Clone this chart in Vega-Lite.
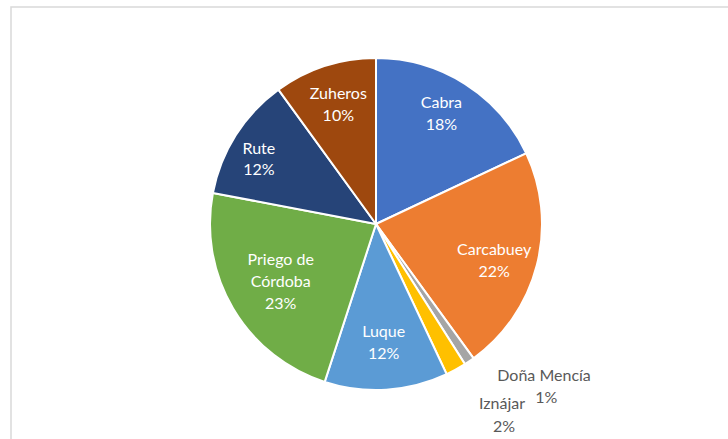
{
  "$schema": "https://vega.github.io/schema/vega-lite/v6.json",
  "width": 730,
  "height": 434,
  "padding": {"left": 11, "top": 7, "right": 0, "bottom": 0},
  "autosize": {"type": "none"},
  "background": "white",
  "config": {"view": {"stroke": null}, "font": "Lato"},
  "data": {
    "values": [
      {"city": "Cabra", "pct": 18, "ord": 1, "label": "Cabra\n18%", "pctText": "18%"},
      {"city": "Carcabuey", "pct": 22, "ord": 2, "label": "Carcabuey\n22%", "pctText": "22%"},
      {"city": "Doña Mencía", "pct": 1, "ord": 3, "label": "Doña Mencía", "pctText": "1%"},
      {"city": "Iznájar", "pct": 2, "ord": 4, "label": "Iznájar", "pctText": "2%"},
      {"city": "Luque", "pct": 12, "ord": 5, "label": "Luque\n12%", "pctText": "12%"},
      {"city": "Priego de Córdoba", "pct": 23, "ord": 6, "label": "Priego de\nCórdoba\n23%", "pctText": "23%"},
      {"city": "Rute", "pct": 12, "ord": 7, "label": "Rute\n12%", "pctText": "12%"},
      {"city": "Zuheros", "pct": 10, "ord": 8, "label": "Zuheros\n10%", "pctText": "10%"}
    ]
  },
  "layer": [
    {
      "transform": [{"filter": "datum.ord == 1"}],
      "mark": {"type": "rect", "fill": null, "stroke": "#d9d9d9", "strokeWidth": 1.5},
      "encoding": {}
    },
    {
      "mark": {"type": "arc", "outerRadius": 166, "stroke": "white", "strokeWidth": 2},
      "encoding": {
        "theta": {"field": "pct", "type": "quantitative", "stack": true},
        "order": {"field": "ord", "type": "quantitative"},
        "color": {
          "field": "city",
          "type": "nominal",
          "legend": null,
          "scale": {
            "domain": ["Cabra", "Carcabuey", "Doña Mencía", "Iznájar", "Luque", "Priego de Córdoba", "Rute", "Zuheros"],
            "range": ["#4472C4", "#ED7D31", "#A5A5A5", "#FFC000", "#5B9BD5", "#70AD47", "#264478", "#9E480E"]
          }
        }
      }
    },
    {
      "mark": {"type": "text", "radius": 122, "fontSize": 16, "lineBreak": "\n", "lineHeight": 22, "baseline": "middle", "align": "center", "fill": "white", "dy": -18},
      "encoding": {
        "theta": {"field": "pct", "type": "quantitative", "stack": true},
        "order": {"field": "ord", "type": "quantitative"},
        "text": {"condition": {"test": "datum.city == 'Cabra'", "field": "label"}, "value": ""}
      }
    },
    {
      "mark": {"type": "text", "radius": 122, "fontSize": 16, "lineBreak": "\n", "lineHeight": 22, "baseline": "middle", "align": "center", "fill": "white", "dy": -4},
      "encoding": {
        "theta": {"field": "pct", "type": "quantitative", "stack": true},
        "order": {"field": "ord", "type": "quantitative"},
        "text": {"condition": {"test": "datum.city == 'Carcabuey'", "field": "label"}, "value": ""}
      }
    },
    {
      "mark": {"type": "text", "radius": 122, "fontSize": 16, "lineBreak": "\n", "lineHeight": 22, "baseline": "middle", "align": "center", "fill": "white", "dy": -14},
      "encoding": {
        "theta": {"field": "pct", "type": "quantitative", "stack": true},
        "order": {"field": "ord", "type": "quantitative"},
        "text": {"condition": {"test": "datum.city == 'Luque' || datum.city == 'Zuheros'", "field": "label"}, "value": ""}
      }
    },
    {
      "mark": {"type": "text", "radius": 134, "fontSize": 16, "lineBreak": "\n", "lineHeight": 21, "baseline": "middle", "align": "center", "fill": "white", "dx": -4, "dy": -3},
      "encoding": {
        "theta": {"field": "pct", "type": "quantitative", "stack": true},
        "order": {"field": "ord", "type": "quantitative"},
        "text": {"condition": {"test": "datum.city == 'Rute'", "field": "label"}, "value": ""}
      }
    },
    {
      "mark": {"type": "text", "radius": 113, "fontSize": 16, "lineBreak": "\n", "lineHeight": 22, "baseline": "middle", "align": "center", "fill": "white", "dx": 2, "dy": -22},
      "encoding": {
        "theta": {"field": "pct", "type": "quantitative", "stack": true},
        "order": {"field": "ord", "type": "quantitative"},
        "text": {"condition": {"test": "datum.city == 'Priego de Córdoba'", "field": "label"}, "value": ""}
      }
    },
    {
      "mark": {"type": "text", "radius": 166, "fontSize": 16, "align": "left", "baseline": "middle", "dx": 28, "dy": 15, "fill": "#595959"},
      "encoding": {
        "theta": {"field": "pct", "type": "quantitative", "stack": true},
        "order": {"field": "ord", "type": "quantitative"},
        "text": {"condition": {"test": "datum.city == 'Doña Mencía'", "field": "label"}, "value": ""}
      }
    },
    {
      "mark": {"type": "text", "radius": 166, "fontSize": 16, "align": "center", "baseline": "middle", "dx": 77, "dy": 37, "fill": "#595959"},
      "encoding": {
        "theta": {"field": "pct", "type": "quantitative", "stack": true},
        "order": {"field": "ord", "type": "quantitative"},
        "text": {"condition": {"test": "datum.city == 'Doña Mencía'", "field": "pctText"}, "value": ""}
      }
    },
    {
      "mark": {"type": "text", "radius": 166, "fontSize": 16, "align": "left", "baseline": "middle", "dx": 23, "dy": 35, "fill": "#595959"},
      "encoding": {
        "theta": {"field": "pct", "type": "quantitative", "stack": true},
        "order": {"field": "ord", "type": "quantitative"},
        "text": {"condition": {"test": "datum.city == 'Iznájar'", "field": "label"}, "value": ""}
      }
    },
    {
      "mark": {"type": "text", "radius": 166, "fontSize": 16, "align": "center", "baseline": "middle", "dx": 48, "dy": 58, "fill": "#595959"},
      "encoding": {
        "theta": {"field": "pct", "type": "quantitative", "stack": true},
        "order": {"field": "ord", "type": "quantitative"},
        "text": {"condition": {"test": "datum.city == 'Iznájar'", "field": "pctText"}, "value": ""}
      }
    }
  ]
}
